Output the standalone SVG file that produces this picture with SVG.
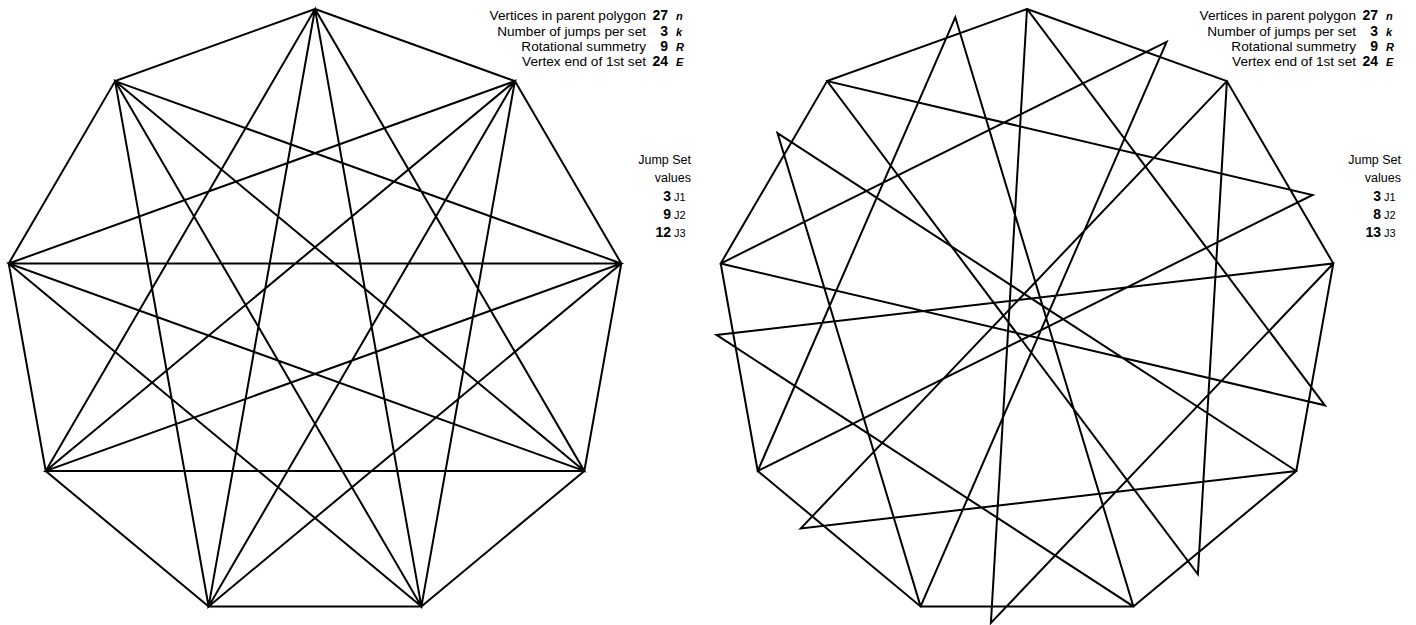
<svg xmlns="http://www.w3.org/2000/svg" width="1416" height="625" viewBox="0 0 1416 625">
<style>
.bg{fill:#ffffff}
.star{fill:none;stroke:#000000;stroke-width:2;stroke-linejoin:miter}
.lbl{font-family:"Liberation Sans",Arial,sans-serif;font-size:13.6px;fill:#000;text-anchor:end}
.lbl2{font-family:"Liberation Sans",Arial,sans-serif;font-size:12.5px;fill:#000;text-anchor:end}
.num{font-family:"Liberation Sans",Arial,sans-serif;font-size:14px;font-weight:bold;fill:#000;text-anchor:end}
.sym{font-family:"Liberation Sans",Arial,sans-serif;font-size:11px;font-weight:bold;font-style:italic;fill:#000}
.jl{font-family:"Liberation Sans",Arial,sans-serif;font-size:11px;fill:#000}
</style>
<rect class="bg" x="0" y="0" width="1416" height="625"/>
<g id="connectors">
<g id="star-left">
<path class="star" d="M315,9 L514.9,81.1 L421.4,606.4 L115.1,81.1 L315,9 L584.3,471 L8.7,263.5 L115.1,81.1 L621.3,263.5 L45.7,471 L8.7,263.5 L514.9,81.1 L208.6,606.4 L45.7,471 L315,9 L421.4,606.4 L208.6,606.4 L115.1,81.1 L584.3,471 L421.4,606.4 L8.7,263.5 L621.3,263.5 L584.3,471 L45.7,471 L514.9,81.1 L621.3,263.5 L208.6,606.4 L315,9"/>
</g>
<g id="star-right">
<path class="star" d="M1027,9 L1226.9,81.1 L1197.9,574.3 L827.1,81.1 L1027,9 L1324.9,405.3 L720.7,263.5 L827.1,81.1 L1312.6,195 L757.7,471 L720.7,263.5 L1166.6,41.8 L920.6,606.4 L757.7,471 L955.3,17.3 L1133.4,606.4 L920.6,606.4 L777.5,133.1 L1296.3,471 L1133.4,606.4 L716.5,334.9 L1333.3,263.5 L1296.3,471 L800.8,528.4 L1226.9,81.1 L1333.3,263.5 L990.9,622.9 L1027,9"/>
</g>
</g>
<g id="params-left">
<text class="lbl" x="646" y="20">Vertices in parent polygon</text>
<text class="num" x="668" y="20">27</text>
<text class="sym" x="676" y="20">n</text>
<text class="lbl" x="646" y="35.5">Number of jumps per set</text>
<text class="num" x="668" y="35.5">3</text>
<text class="sym" x="676" y="35.5">k</text>
<text class="lbl" x="646" y="51">Rotational summetry</text>
<text class="num" x="668" y="51">9</text>
<text class="sym" x="676" y="51">R</text>
<text class="lbl" x="646" y="66">Vertex end of 1st set</text>
<text class="num" x="668" y="66">24</text>
<text class="sym" x="676" y="66">E</text>
</g>
<g id="jumps-left">
<text class="lbl2" x="691" y="164">Jump Set</text>
<text class="lbl2" x="691" y="182">values</text>
<text class="num" x="671" y="201">3</text>
<text class="jl" x="674" y="201">J1</text>
<text class="num" x="671" y="219">9</text>
<text class="jl" x="674" y="219">J2</text>
<text class="num" x="671" y="237">12</text>
<text class="jl" x="674" y="237">J3</text>
</g>
<g id="params-right">
<text class="lbl" x="1356" y="20">Vertices in parent polygon</text>
<text class="num" x="1378" y="20">27</text>
<text class="sym" x="1386" y="20">n</text>
<text class="lbl" x="1356" y="35.5">Number of jumps per set</text>
<text class="num" x="1378" y="35.5">3</text>
<text class="sym" x="1386" y="35.5">k</text>
<text class="lbl" x="1356" y="51">Rotational summetry</text>
<text class="num" x="1378" y="51">9</text>
<text class="sym" x="1386" y="51">R</text>
<text class="lbl" x="1356" y="66">Vertex end of 1st set</text>
<text class="num" x="1378" y="66">24</text>
<text class="sym" x="1386" y="66">E</text>
</g>
<g id="jumps-right">
<text class="lbl2" x="1401" y="164">Jump Set</text>
<text class="lbl2" x="1401" y="182">values</text>
<text class="num" x="1381" y="201">3</text>
<text class="jl" x="1384" y="201">J1</text>
<text class="num" x="1381" y="219">8</text>
<text class="jl" x="1384" y="219">J2</text>
<text class="num" x="1381" y="237">13</text>
<text class="jl" x="1384" y="237">J3</text>
</g>
</svg>
